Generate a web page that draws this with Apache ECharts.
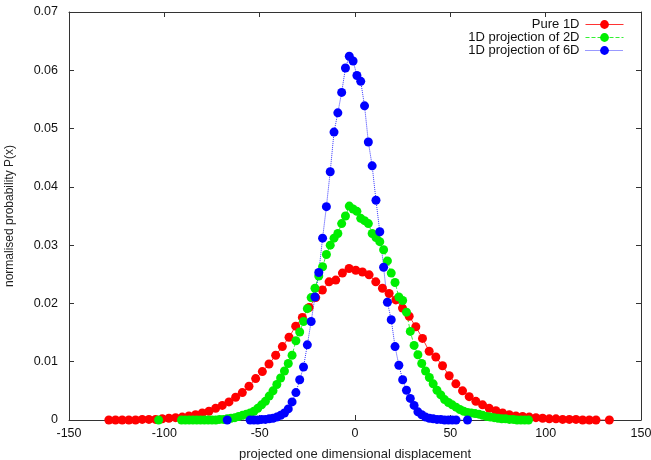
<!DOCTYPE html>
<html>
<head>
<meta charset="utf-8">
<script src="https://cdn.jsdelivr.net/npm/echarts@6/dist/echarts.min.js"></script>
<style>
  html, body { margin: 0; padding: 0; background: #fff; }
  #chart { width: 651px; height: 460px; }
</style>
</head>
<body>
<div id="chart"></div>
<script>
// bin grids (bin centre of first point, bin width)
const pure1dStart = -129.1, pure1dStep = 3.5;
const proj2dStart = -103, proj2dStep = 2;
const proj6dStart = -67, proj6dStep = 2;

// null = empty bin (no point drawn)
const pure1dValues = [
  0, 0, 0, 0, 0, 0.0001, 0.0001, 0.0001, 0.0002, 0.0003,
  0.0004, 0.0005, 0.0007, 0.0009, 0.0012, 0.0015, 0.0020, 0.0025, 0.0031, 0.0039,
  0.0047, 0.0058, 0.0071, 0.0083, 0.0096, 0.0111, 0.0126, 0.0142, 0.0161, 0.0176,
  0.0193, 0.0210, 0.0223, 0.0237, 0.0240, 0.0252, 0.0260, 0.0257, 0.0254, 0.0249,
  0.0237, 0.0226, 0.0217, 0.0206, 0.0192, 0.0178, 0.0160, 0.0140, 0.0118, 0.0108,
  0.0093, 0.0076, 0.0062, 0.0050, 0.0040, 0.0032, 0.0026, 0.0020, 0.0016, 0.0012,
  0.0009, 0.0007, 0.0006, 0.0005, 0.0004, 0.0003, 0.0002, 0.0002, 0.0001, 0.0001,
  0.0001, 0, 0, 0, null, 0
];

const proj2dValues = [
  0, null, null, null, null, null, 0, 0, 0, 0,
  0, 0, 0, 0, 0, 0, 0.0001, 0.0001, 0.0002, 0.0003,
  0.0004, 0.0006, 0.0008, 0.0010, 0.0012, 0.0015, 0.0020, 0.0026, 0.0032, 0.0041,
  0.0050, 0.0061, 0.0072, 0.0084, 0.0097, 0.0111, 0.0136, 0.0151, 0.0169, 0.0191,
  0.0210, 0.0226, 0.0247, 0.0263, 0.0284, 0.0300, 0.0312, 0.0320, 0.0337, 0.0350,
  0.0367, 0.0362, 0.0358, 0.0346, 0.0342, 0.0337, 0.0320, 0.0313, 0.0306, 0.0292,
  0.0273, 0.0252, 0.0236, 0.0211, 0.0205, 0.0185, 0.0152, 0.0128, 0.0112, 0.0097,
  0.0084, 0.0073, 0.0062, 0.0051, 0.0043, 0.0035, 0.0030, 0.0026, 0.0022, 0.0018,
  0.0015, 0.0013, 0.0012, 0.0011, 0.0010, 0.0008, 0.0006, 0.0005, 0.0004, 0.0003,
  0.0002, 0.0002, 0.0001, 0.0001, 0, 0, 0, 0
];

const proj6dValues = [
  0, null, null, null, null, null, 0, 0, 0, 0.0001,
  0.0001, 0.0002, 0.0003, 0.0005, 0.0008, 0.0012, 0.0019, 0.0031, 0.0047, 0.0069,
  0.0091, 0.0129, 0.0169, 0.0211, 0.0253, 0.0312, 0.0366, 0.0426, 0.0494, 0.0527,
  0.0562, 0.0604, 0.0624, 0.0616, 0.0591, 0.0581, 0.0539, 0.0477, 0.0436, 0.0377,
  0.0323, 0.0262, 0.0202, 0.0172, 0.0126, 0.0094, 0.0069, 0.0051, 0.0037, 0.0025,
  0.0014, 0.0009, 0.0005, 0.0003, 0.0002, 0.0001, 0.0001, 0, 0, 0,
  0, null, null, 0
];

const seriesNames = ['Pure 1D', '1D projection of 2D', '1D projection of 6D'];
const xTicks = [-150, -100, -50, 0, 50, 100, 150];
const yTicks = [0, 0.01, 0.02, 0.03, 0.04, 0.05, 0.06, 0.07];

const font = '"Liberation Sans", Arial, sans-serif';

function toPoints(start, step, values) {
  const out = [];
  values.forEach((v, i) => {
    if (v !== null) out.push([+(start + step * i).toFixed(2), v]);
  });
  return out;
}

function lineSeries(name, data, color, type) {
  return {
    name: name,
    type: 'line',
    data: data,
    symbol: 'circle',
    symbolSize: 9,
    itemStyle: { color: color },
    lineStyle: { color: color, width: 1, type: type, opacity: 0.8 },
    animation: false,
    z: 3
  };
}

const axisLineStyle = { color: '#333', width: 1 };

const chart = echarts.init(document.getElementById('chart'));
chart.setOption({
  backgroundColor: '#fff',
  textStyle: { fontFamily: font },
  grid: { left: 69, right: 10, top: 12, bottom: 40, outerBoundsMode: 'none' },
  legend: {
    orient: 'vertical',
    right: 22,
    top: 13,
    align: 'right',
    itemWidth: 38,
    itemHeight: 11,
    itemGap: 0,
    data: seriesNames,
    lineStyle: { width: 1 },
    textStyle: { fontFamily: font, fontSize: 13, lineHeight: 13, color: '#111', padding: [0, 1, 0, 0] }
  },
  xAxis: [{
    type: 'value',
    min: xTicks[0],
    max: xTicks[xTicks.length - 1],
    interval: 50,
    name: 'projected one dimensional displacement',
    nameLocation: 'middle',
    nameGap: 28,
    nameTextStyle: { fontFamily: font, fontSize: 13, color: '#222' },
    axisLine: { show: true, onZero: false, lineStyle: axisLineStyle },
    axisTick: { show: true, inside: true, length: 5, lineStyle: axisLineStyle },
    axisLabel: { fontFamily: font, fontSize: 12.5, color: '#111', margin: 7 },
    splitLine: { show: false }
  }, {
    type: 'value',
    position: 'top',
    min: xTicks[0],
    max: xTicks[xTicks.length - 1],
    interval: 50,
    axisLine: { show: true, onZero: false, lineStyle: axisLineStyle },
    axisTick: { show: true, inside: true, length: 5, lineStyle: axisLineStyle },
    axisLabel: { show: false },
    splitLine: { show: false }
  }],
  yAxis: [{
    type: 'value',
    min: yTicks[0],
    max: yTicks[yTicks.length - 1],
    interval: 0.01,
    name: 'normalised probability P(x)',
    nameLocation: 'middle',
    nameGap: 53,
    nameTextStyle: { fontFamily: font, fontSize: 12, color: '#222' },
    axisLine: { show: true, onZero: false, lineStyle: axisLineStyle },
    axisTick: { show: true, inside: true, length: 5, lineStyle: axisLineStyle },
    axisLabel: { fontFamily: font, fontSize: 12.5, color: '#111', margin: 11 },
    splitLine: { show: false }
  }, {
    type: 'value',
    position: 'right',
    min: yTicks[0],
    max: yTicks[yTicks.length - 1],
    interval: 0.01,
    axisLine: { show: true, onZero: false, lineStyle: axisLineStyle },
    axisTick: { show: true, inside: true, length: 5, lineStyle: axisLineStyle },
    axisLabel: { show: false },
    splitLine: { show: false }
  }],
  series: [
    lineSeries(seriesNames[0], toPoints(pure1dStart, pure1dStep, pure1dValues), '#ff0000', 'solid'),
    lineSeries(seriesNames[1], toPoints(proj2dStart, proj2dStep, proj2dValues), '#00ee00', 'dashed'),
    lineSeries(seriesNames[2], toPoints(proj6dStart, proj6dStep, proj6dValues), '#0000ff', 'dotted')
  ]
});
</script>
</body>
</html>
